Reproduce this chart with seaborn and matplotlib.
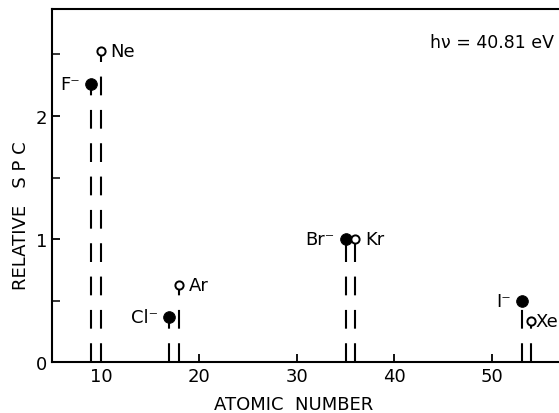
import pandas as pd
import seaborn as sns
import matplotlib.pyplot as plt

# atomic number, relative SPC, label, kind (ion = filled, atom = open)
atomic_number = [9, 10, 17, 18, 35, 36, 53, 54]
relative_spc = [2.26, 2.53, 0.37, 0.63, 1.00, 1.00, 0.50, 0.33]
labels = ["F⁻", "Ne", "Cl⁻", "Ar", "Br⁻", "Kr", "I⁻", "Xe"]
kinds = ["ion", "atom", "ion", "atom", "ion", "atom", "ion", "atom"]

df = pd.DataFrame({"Z": atomic_number, "spc": relative_spc,
                   "label": labels, "kind": kinds})

sns.set_theme(style="ticks")
plt.rcParams["font.family"] = ["DejaVu Sans"]
plt.rcParams["text.color"] = "black"

fig = plt.figure(figsize=(5.59, 4.14), dpi=100)
ax = fig.add_axes([0.093, 0.123, 0.919, 0.853])

# dashed drop lines
for _, r in df.iterrows():
    ax.vlines(r["Z"], 0, r["spc"], color="black", lw=1.5,
              linestyles=(0, (9, 7)))

ions = df[df["kind"] == "ion"]
atoms = df[df["kind"] == "atom"]
sns.scatterplot(data=ions, x="Z", y="spc", ax=ax, color="black",
                s=70, edgecolor="black", zorder=3, legend=False)
sns.scatterplot(data=atoms, x="Z", y="spc", ax=ax, facecolor="white",
                s=35, edgecolor="black", linewidth=1.4, zorder=3, legend=False)

for _, r in df.iterrows():
    if r["kind"] == "ion":
        ax.annotate(r["label"], (r["Z"], r["spc"]), xytext=(-8, 0),
                    textcoords="offset points", ha="right", va="center",
                    fontsize=13)
    else:
        off = 3 if r["label"] == "Xe" else 7
        ax.annotate(r["label"], (r["Z"], r["spc"]), xytext=(off, 0),
                    textcoords="offset points", ha="left", va="center",
                    fontsize=13)

ax.text(43.6, 2.6, "hν = 40.81 eV", fontsize=12.5, ha="left", va="center")

ax.set_xlim(5, 57.5)
ax.set_ylim(0, 2.87)
ax.set_xticks([10, 20, 30, 40, 50])
ax.set_yticks([0, 1, 2])
ax.set_yticks([0.5, 1.5, 2.5], minor=True)
ax.tick_params(direction="in", length=6, width=1.3, labelsize=13, colors="black")
ax.tick_params(which="minor", direction="in", length=6, width=1.3)
for s in ax.spines.values():
    s.set_linewidth(1.5)
    s.set_color("black")
ax.spines["right"].set_visible(False)

ax.set_xlabel("")
ax.set_ylabel("")
fig.text(0.525, 0.022, "ATOMIC  NUMBER", ha="center", va="center",
         fontsize=13, color="black")
fig.text(0.038, 0.48, "RELATIVE   S P C", ha="center", va="center",
         rotation=90, fontsize=13, color="black")

fig.savefig("out.png", dpi=100)
